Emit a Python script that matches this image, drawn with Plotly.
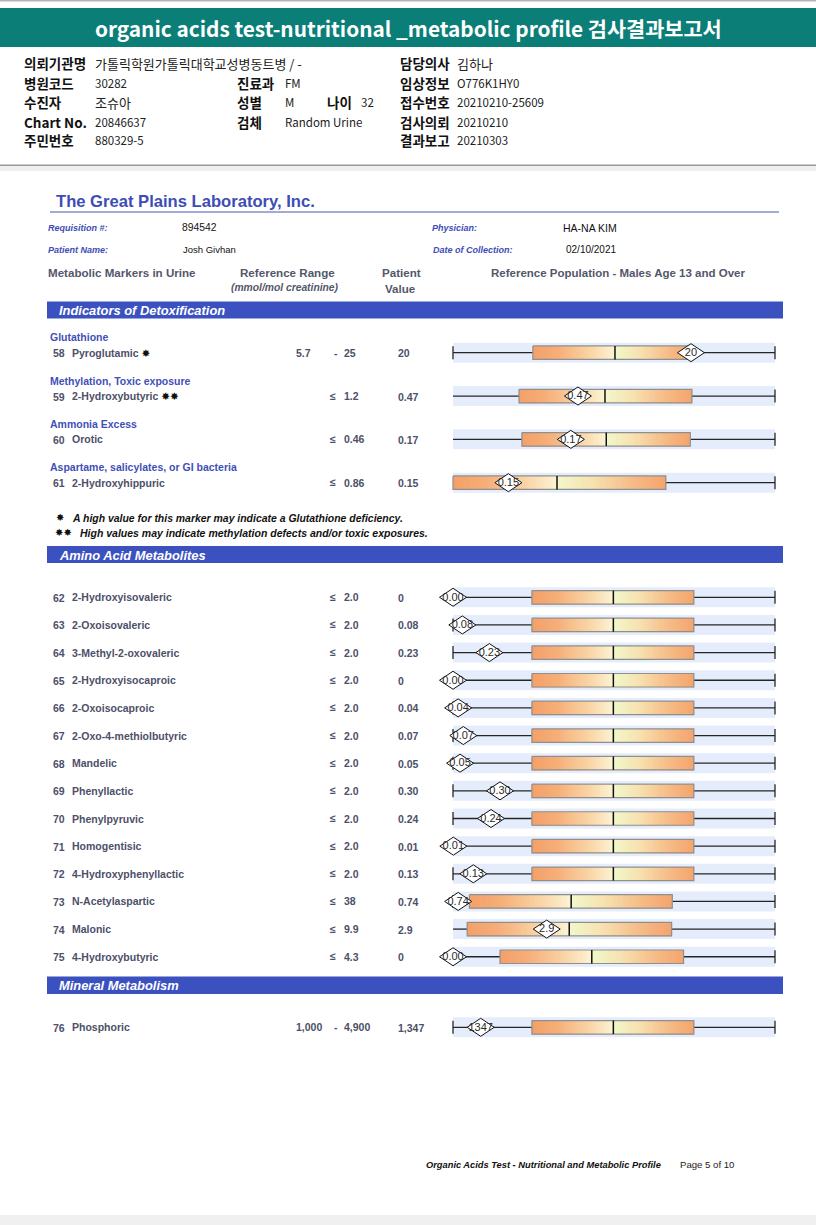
import numpy as np
import plotly.graph_objects as go

W, H = 816, 1225

# ----------------------------- data -----------------------------
detox_groups = ["Glutathione", "Methylation, Toxic exposure", "Ammonia Excess",
                "Aspartame, salicylates, or GI bacteria"]
detox_nums = ["58", "59", "60", "61"]
detox_names = ["Pyroglutamic", "2-Hydroxybutyric", "Orotic", "2-Hydroxyhippuric"]
detox_marks = ["✸", "✸✸", "", ""]
detox_ref_low = ["5.7", "", "", ""]
detox_ref_high = ["25", "1.2", "0.46", "0.86"]
detox_values = ["20", "0.47", "0.17", "0.15"]
detox_diamond = ["20", "0.47", "0.17", "0.15"]
# population display scale (0..100): box = inter-quartile, line = median, diamond = patient
detox_q1 = [24.8, 20.5, 21.4, 0.0]
detox_median = [50.3, 47.2, 47.6, 32.3]
detox_q3 = [74.5, 74.2, 73.7, 66.1]
detox_position = [73.9, 38.8, 36.6, 17.2]
detox_low_cap = [True, False, False, False]

amino_nums = ["62", "63", "64", "65", "66", "67", "68", "69", "70", "71", "72", "73", "74", "75"]
amino_names = ["2-Hydroxyisovaleric", "2-Oxoisovaleric", "3-Methyl-2-oxovaleric",
               "2-Hydroxyisocaproic", "2-Oxoisocaproic", "2-Oxo-4-methiolbutyric", "Mandelic",
               "Phenyllactic", "Phenylpyruvic", "Homogentisic", "4-Hydroxyphenyllactic",
               "N-Acetylaspartic", "Malonic", "4-Hydroxybutyric"]
amino_ref_low = ["", "", "", "", "", "", "", "", "", "", "", "", "", ""]
amino_ref_high = ["2.0", "2.0", "2.0", "2.0", "2.0", "2.0", "2.0", "2.0", "2.0", "2.0", "2.0",
                  "38", "9.9", "4.3"]
amino_values = ["0", "0.08", "0.23", "0", "0.04", "0.07", "0.05", "0.30", "0.24", "0.01",
                "0.13", "0.74", "2.9", "0"]
amino_diamond = ["0.00", "0.08", "0.23", "0.00", "0.04", "0.07", "0.05", "0.30", "0.24", "0.01",
                 "0.13", "0.74", "2.9", "0.00"]
amino_q1 = [24.5, 24.5, 24.5, 24.5, 24.5, 24.5, 24.5, 24.5, 24.5, 24.5, 24.5, 5.1, 4.4, 14.6]
amino_median = [49.8, 49.8, 49.8, 49.8, 49.8, 49.8, 49.8, 49.8, 49.8, 49.8, 49.8, 36.7, 36.1, 43.1]
amino_q3 = [74.8, 74.8, 74.8, 74.8, 74.8, 74.8, 74.8, 74.8, 74.8, 74.8, 74.8, 68.1, 67.9, 71.6]
amino_position = [0.0, 2.9, 11.3, 0.0, 1.6, 3.2, 2.2, 14.6, 11.8, 0.1, 6.3, 1.6, 29.1, 0.0]
amino_low_cap = [True, True, True, True, True, True, True, True, True, True, True, True, False, True]

mineral_nums = ["76"]
mineral_names = ["Phosphoric"]
mineral_ref_low = ["1,000"]
mineral_ref_high = ["4,900"]
mineral_values = ["1,347"]
mineral_diamond = ["1347"]
mineral_q1 = [24.5]
mineral_median = [49.8]
mineral_q3 = [74.8]
mineral_position = [8.6]
mineral_low_cap = [True]

# header info (Korean report block)
info_left_labels = ["의뢰기관명", "병원코드", "수진자", "Chart No.", "주민번호"]
info_left_values = ["가톨릭학원가톨릭대학교성병동트병 / -", "30282", "조슈아", "20846637", "880329-5"]
info_mid_labels = ["진료과", "성별", "검체"]
info_mid_values = ["FM", "M", "Random Urine"]
info_right_labels = ["담당의사", "임상정보", "접수번호", "검사의뢰", "결과보고"]
info_right_values = ["김하나", "O776K1HY0", "20210210-25609", "20210210", "20210303"]

# ----------------------------- layout constants -----------------------------
ARIAL = "Liberation Sans, Arial, sans-serif"
KR = "Noto Sans CJK KR, sans-serif"
ROWTXT = "#4d5068"
BLUE_TXT = "#3f50b8"
BAR_BLUE = "#3b51c0"

X0PX, X1PX = 453.0, 775.0            # pixel span of the 0..100 display scale
PPU = (X1PX - X0PX) / 100.0
XR = [-X0PX / PPU, (W - X0PX) / PPU]

BOX_H, BAND_H, CAP_H = 13.5, 20.0, 13.0
DIAM_W, DIAM_H = 27.0 / PPU, 18.0

DETOX_Y0, DETOX_STEP = 352.7, 43.33
AMINO_Y0, AMINO_STEP = 597.3, 27.65
MINERAL_Y0 = 1027.3

rows = []
def add_rows(y0, step, nums, names, marks, lows, highs, vals, dtext, q1, med, q3, pos, cap):
    for i in range(len(nums)):
        rows.append(dict(y=y0 + i * step, num=nums[i], name=names[i], mark=marks[i],
                         low=lows[i], high=highs[i], val=vals[i], dtext=dtext[i],
                         q1=q1[i], med=med[i], q3=q3[i], pos=pos[i], cap=cap[i]))

add_rows(DETOX_Y0, DETOX_STEP, detox_nums, detox_names, detox_marks, detox_ref_low,
         detox_ref_high, detox_values, detox_diamond, detox_q1, detox_median, detox_q3,
         detox_position, detox_low_cap)
add_rows(AMINO_Y0, AMINO_STEP, amino_nums, amino_names, [""] * len(amino_nums), amino_ref_low,
         amino_ref_high, amino_values, amino_diamond, amino_q1, amino_median, amino_q3,
         amino_position, amino_low_cap)
add_rows(MINERAL_Y0, 0, mineral_nums, mineral_names, [""], mineral_ref_low, mineral_ref_high,
         mineral_values, mineral_diamond, mineral_q1, mineral_median, mineral_q3,
         mineral_position, mineral_low_cap)

fig = go.Figure()
shapes = []
anns = []

def T(x, y, s, size=10.5, color=ROWTXT, bold=False, italic=False, anchor="left", family=ARIAL):
    if bold:
        s = "<b>" + s + "</b>"
    if italic:
        s = "<i>" + s + "</i>"
    anns.append(dict(x=x / W, y=y, xref="paper", yref="y", text=s, showarrow=False,
                     xanchor=anchor, yanchor="middle", borderpad=0,
                     font=dict(size=size, color=color, family=family)))

def R(x0, y0, x1, y1, color, layer="below"):
    shapes.append(dict(type="rect", xref="paper", yref="y", x0=x0 / W, x1=x1 / W, y0=y0, y1=y1,
                       fillcolor=color, line=dict(width=0), layer=layer))

def has_hangul(s):
    return any("\uac00" <= ch <= "\ud7a3" for ch in s)

# ---------------- page backgrounds ----------------
R(0, 0, W, 1.5, "#b4b4b4")
R(0, 8, W, 47, "#0b7e78")
R(0, 164.5, W, 166, "#9a9a9a")
R(0, 166, W, 171, "#efefef")
R(0, 1215, W, H, "#f0f0f0")

T(408, 28, "organic acids test-nutritional _metabolic profile 검사결과보고서", size=20.8,
  color="white", bold=True, anchor="center", family=KR)

info_y = [63, 83, 102, 122, 140]
def val_size(s):
    return 13.0 if has_hangul(s) else 11.5
for i, (lab, val) in enumerate(zip(info_left_labels, info_left_values)):
    T(23, info_y[i], lab, size=13.5, color="#111", bold=True, family=KR)
    T(94, info_y[i], val, size=val_size(val), color="#222", family=KR)
for i, (lab, val) in enumerate(zip(info_right_labels, info_right_values)):
    T(399, info_y[i], lab, size=13.5, color="#111", bold=True, family=KR)
    T(456, info_y[i], val, size=val_size(val), color="#222", family=KR)
for i, (lab, val) in enumerate(zip(info_mid_labels, info_mid_values)):
    T(236, info_y[i + 1], lab, size=13.5, color="#111", bold=True, family=KR)
    T(284, info_y[i + 1], val, size=val_size(val), color="#222", family=KR)
T(326, info_y[2], "나이", size=13.5, color="#111", bold=True, family=KR)
T(360, info_y[2], "32", size=11.5, color="#222", family=KR)

# ---------------- lab header ----------------
T(55, 201, "The Great Plains Laboratory, Inc.", size=16.6, color="#3d4db5", bold=True)
shapes.append(dict(type="line", xref="paper", yref="y", x0=50 / W, x1=779 / W, y0=212, y1=212,
                   line=dict(color="#4a56b0", width=1.2)))
T(47, 228, "Requisition #:", size=9, color="#3d4db5", bold=True, italic=True)
T(181, 227.5, "894542", size=10.3, color="#111")
T(431, 228, "Physician:", size=9, color="#3d4db5", bold=True, italic=True)
T(562, 227.5, "HA-NA KIM", size=10.5, color="#111")
T(47, 249.5, "Patient Name:", size=9, color="#3d4db5", bold=True, italic=True)
T(182, 249, "Josh Givhan", size=9.5, color="#111")
T(432, 249.5, "Date of Collection:", size=9, color="#3d4db5", bold=True, italic=True)
T(565, 249, "02/10/2021", size=10, color="#111")

HDR = "#53576a"
T(47, 272, "Metabolic Markers in Urine", size=11.6, color=HDR, bold=True)
T(287, 272, "Reference Range", size=11.6, color=HDR, bold=True, anchor="center")
T(285, 287.5, "(mmol/mol creatinine)", size=10.3, color=HDR, bold=True, italic=True, anchor="center")
T(401, 272, "Patient", size=11.6, color=HDR, bold=True, anchor="center")
T(400, 288, "Value", size=11.6, color=HDR, bold=True, anchor="center")
T(618, 273, "Reference Population - Males Age 13 and Over", size=11.5, color=HDR, bold=True,
  anchor="center")

# ---------------- section bars ----------------
for (ya, yb, title) in [(301.5, 318.5, "Indicators of Detoxification"),
                        (546, 563, "Amino Acid Metabolites"),
                        (976.5, 994, "Mineral Metabolism")]:
    R(47, ya, 783, yb, BAR_BLUE)
    T(58, (ya + yb) / 2 + 0.5, title, size=12.9, color="white", bold=True, italic=True)

for i, g in enumerate(detox_groups):
    T(49, DETOX_Y0 + i * DETOX_STEP - 15.5, g, size=10.5, color=BLUE_TXT, bold=True)

T(55, 517.5, "✸", size=10, color="#111", family="DejaVu Sans")
T(71, 518, "A high value for this marker may indicate a Glutathione deficiency.", size=10.45,
  color="#111", bold=True, italic=True)
T(53.5, 532.5, "✸✸", size=10, color="#111", family="DejaVu Sans")
T(79, 533, "High values may indicate methylation defects and/or toxic exposures.", size=10.5,
  color="#111", bold=True, italic=True)

T(425, 1165, "Organic Acids Test - Nutritional and Metabolic Profile", size=9.3, color="#111",
  bold=True, italic=True)
T(679, 1164, "Page 5 of 10", size=9.6, color="#222")

# ---------------- row texts ----------------
for r in rows:
    y = r["y"]
    T(52, y + 0.5, r["num"], size=10.5, bold=True)
    name = r["name"]
    if r["mark"]:
        name = name + " <span style='color:#111;font-family:DejaVu Sans'>" + r["mark"] + "</span>"
    T(71, y, name, size=10.5, bold=True)
    if r["low"]:
        T(295, y, r["low"], size=10.5, bold=True)
        T(336, y, "-", size=10.5, bold=True, anchor="center")
    else:
        T(333, y - 0.5, "≤", size=10.5, bold=True, anchor="center")
    T(343, y, r["high"], size=10.5, bold=True)
    T(397, y + 0.5, r["val"], size=10.5, bold=True)

# ---------------- graphic rows ----------------
CS = [[0.0, "#f4a068"], [0.15, "#f6ae78"], [0.33, "#f9d2a2"], [0.49, "#fcf4d4"],
      [0.51, "#f1f8cb"], [0.67, "#f7e1b0"], [0.85, "#f6bb86"], [1.0, "#f4a46c"]]
N = 80
# heatmaps first so every line / diamond trace lies above them
for r in rows:
    edges = np.linspace(r["q1"], r["q3"], N + 1)
    cen = (edges[:-1] + edges[1:]) / 2
    z = np.where(cen < r["med"],
                 (cen - r["q1"]) / (r["med"] - r["q1"]) * 0.49,
                 0.51 + (cen - r["med"]) / (r["q3"] - r["med"]) * 0.49)
    fig.add_trace(go.Heatmap(x=edges, y=[r["y"] - BOX_H / 2, r["y"] + BOX_H / 2], z=[z],
                             colorscale=CS, zmin=0, zmax=1, showscale=False, hoverinfo="skip"))

for r in rows:
    y = r["y"]
    shapes.append(dict(type="rect", xref="x", yref="y", x0=0, x1=100, y0=y - BAND_H / 2,
                       y1=y + BAND_H / 2, fillcolor="#e5edfc", line=dict(width=0), layer="below"))
    wx = [0, r["q1"], None, r["q3"], 100]
    wy = [y, y, None, y, y]
    fig.add_trace(go.Scatter(x=wx, y=wy, mode="lines", line=dict(color="#262626", width=1.3),
                             hoverinfo="skip", showlegend=False))
    cx = [100, 100]
    cy = [y - CAP_H / 2, y + CAP_H / 2]
    if r["cap"]:
        cx += [None, 0, 0]
        cy += [None, y - CAP_H / 2, y + CAP_H / 2]
    fig.add_trace(go.Scatter(x=cx, y=cy, mode="lines", line=dict(color="#262626", width=1.3),
                             hoverinfo="skip", showlegend=False))
    bx = [r["q1"], r["q3"], r["q3"], r["q1"], r["q1"]]
    by = [y - BOX_H / 2, y - BOX_H / 2, y + BOX_H / 2, y + BOX_H / 2, y - BOX_H / 2]
    fig.add_trace(go.Scatter(x=bx, y=by, mode="lines", line=dict(color="#8f8f8f", width=1.2),
                             hoverinfo="skip", showlegend=False))
    fig.add_trace(go.Scatter(x=[r["med"], r["med"]], y=[y - BOX_H / 2, y + BOX_H / 2],
                             mode="lines", line=dict(color="#111", width=1.5),
                             hoverinfo="skip", showlegend=False))
    p = r["pos"]
    dx = [p - DIAM_W / 2, p, p + DIAM_W / 2, p, p - DIAM_W / 2]
    dy = [y, y - DIAM_H / 2, y, y + DIAM_H / 2, y]
    fig.add_trace(go.Scatter(x=dx, y=dy, mode="lines", fill="toself", fillcolor="white",
                             line=dict(color="#111", width=1), hoverinfo="skip", showlegend=False))
    fig.add_trace(go.Scatter(x=[p], y=[y + 0.5], mode="text", text=[r["dtext"]],
                             textfont=dict(family=ARIAL, size=11, color="#2a2a2a"),
                             textposition="middle center", hoverinfo="skip", showlegend=False))

fig.update_layout(
    width=W, height=H, margin=dict(l=0, r=0, t=0, b=0, pad=0),
    paper_bgcolor="white", plot_bgcolor="rgba(0,0,0,0)",
    xaxis=dict(range=XR, domain=[0, 1], visible=False, fixedrange=True),
    yaxis=dict(range=[H, 0], domain=[0, 1], visible=False, fixedrange=True),
    shapes=shapes, annotations=anns, showlegend=False, hovermode=False,
)
fig.write_html("out.html", config={"displayModeBar": False, "staticPlot": True},
               post_script="document.body.style.margin='0';document.body.style.overflow='hidden';")
